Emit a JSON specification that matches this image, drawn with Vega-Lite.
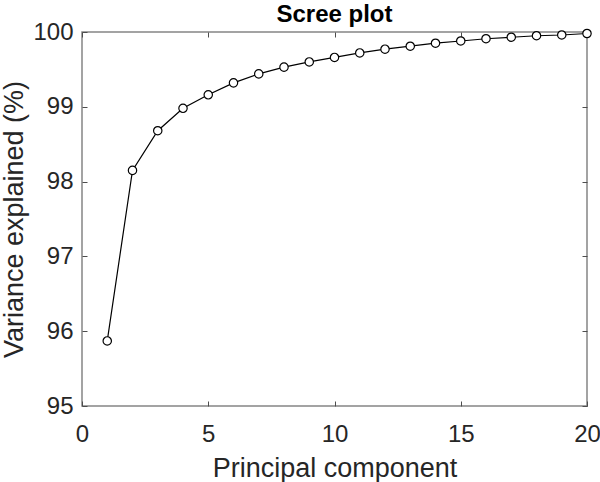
{
  "$schema": "https://vega.github.io/schema/vega-lite/v6.json",
  "autosize": {"type": "none"},
  "width": 505,
  "height": 374,
  "padding": {"left": 82, "top": 32, "right": 13, "bottom": 76},
  "background": "white",
  "title": {"text": "Scree plot", "font": "Liberation Sans", "fontSize": 24, "fontWeight": "bold", "color": "#000000", "anchor": "middle", "frame": "group", "baseline": "alphabetic", "offset": -26},
  "data": {"values": [
    {"pc": 1, "v": 95.87},
    {"pc": 2, "v": 98.15},
    {"pc": 3, "v": 98.68},
    {"pc": 4, "v": 98.98},
    {"pc": 5, "v": 99.16},
    {"pc": 6, "v": 99.32},
    {"pc": 7, "v": 99.44},
    {"pc": 8, "v": 99.53},
    {"pc": 9, "v": 99.60},
    {"pc": 10, "v": 99.66},
    {"pc": 11, "v": 99.72},
    {"pc": 12, "v": 99.77},
    {"pc": 13, "v": 99.81},
    {"pc": 14, "v": 99.85},
    {"pc": 15, "v": 99.88},
    {"pc": 16, "v": 99.91},
    {"pc": 17, "v": 99.93},
    {"pc": 18, "v": 99.95},
    {"pc": 19, "v": 99.96},
    {"pc": 20, "v": 99.98}
  ]},
  "layer": [
    {
      "mark": {"type": "line", "color": "#000000", "strokeWidth": 1.2},
      "encoding": {
        "x": {"field": "pc", "type": "quantitative", "scale": {"domain": [0, 20], "nice": false, "zero": false},
              "axis": {"orient": "bottom", "values": [0, 5, 10, 15, 20], "title": "Principal component", "tickSize": -5, "labelPadding": 21, "titlePadding": 9, "labelFlush": false}},
        "y": {"field": "v", "type": "quantitative", "scale": {"domain": [95, 100], "nice": false, "zero": false},
              "axis": {"orient": "left", "values": [95, 96, 97, 98, 99, 100], "format": "d", "title": "Variance explained (%)", "tickSize": -5, "labelPadding": 14, "titlePadding": 4, "labelFlush": false}}
      }
    },
    {
      "mark": {"type": "point", "shape": "circle", "filled": true, "fill": "white", "stroke": "#000000", "strokeWidth": 1.2, "size": 70, "opacity": 1},
      "encoding": {
        "x": {"field": "pc", "type": "quantitative", "scale": {"domain": [0, 20], "nice": false, "zero": false},
              "axis": {"orient": "top", "values": [0, 5, 10, 15, 20], "labels": false, "title": null, "tickSize": -5, "minExtent": 0, "maxExtent": 0}},
        "y": {"field": "v", "type": "quantitative", "scale": {"domain": [95, 100], "nice": false, "zero": false},
              "axis": {"orient": "right", "values": [95, 96, 97, 98, 99, 100], "labels": false, "title": null, "tickSize": -5, "minExtent": 0, "maxExtent": 0}}
      }
    }
  ],
  "resolve": {"axis": {"x": "independent", "y": "independent"}},
  "config": {
    "view": {"stroke": "#858585", "strokeWidth": 1.5},
    "axis": {
      "grid": false,
      "domain": false,
      "tickColor": "#4d4d4d",
      "tickWidth": 1,
      "labelFont": "Liberation Sans",
      "labelFontSize": 24,
      "labelColor": "#262626",
      "titleFont": "Liberation Sans",
      "titleFontSize": 27,
      "titleFontWeight": "normal",
      "titleColor": "#262626"
    }
  }
}
